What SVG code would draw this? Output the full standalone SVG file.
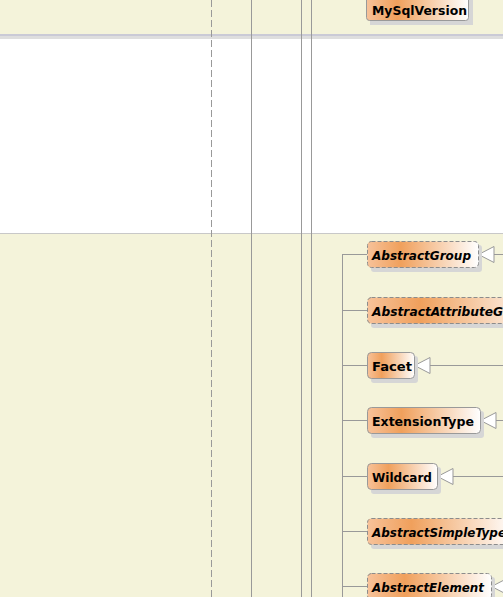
<svg xmlns="http://www.w3.org/2000/svg" width="503" height="597" viewBox="0 0 503 597">
<defs>
<linearGradient id="g" x1="0" y1="0" x2="1" y2="0">
<stop offset="0" stop-color="#f7c29a"/>
<stop offset="0.3" stop-color="#f0a05c"/>
<stop offset="1" stop-color="#ffffff"/>
</linearGradient>
<style>
.sh{fill:#d6d6d6;}
.box{fill:url(#g);stroke:#999999;stroke-width:1;}
.abs{stroke-dasharray:4,2;stroke:#8c8c8c;}
.t{font-family:"DejaVu Sans",Verdana,sans-serif;font-weight:bold;font-size:13px;fill:#000;}
.i{font-style:italic;}
.ln{stroke:#999999;stroke-width:1;fill:none;}
.tri{fill:#ffffff;stroke:#999999;stroke-width:1;}
</style>
</defs>
<rect x="0" y="0" width="503" height="597" fill="#ffffff"/>
<rect x="0" y="0" width="503" height="34" fill="#f4f3da"/>
<rect x="0" y="34" width="503" height="2" fill="#cacad6"/>
<rect x="0" y="36" width="503" height="3" fill="#dedede"/>
<rect x="0" y="233" width="503" height="364" fill="#f4f3da"/>
<line x1="0" y1="233.5" x2="503" y2="233.5" stroke="#c8c8c8"/>
<g id="lifelines">
<line x1="211.5" y1="0" x2="211.5" y2="597" stroke="#999" stroke-dasharray="7,3"/>
<line x1="251.5" y1="0" x2="251.5" y2="597" stroke="#999"/>
<line x1="301.5" y1="0" x2="301.5" y2="597" stroke="#999"/>
<line x1="311.5" y1="0" x2="311.5" y2="597" stroke="#999"/>
</g>
<g id="connectors">
<line class="ln" x1="342.5" y1="254.5" x2="342.5" y2="597"/>
<line class="ln" x1="342" y1="254.5" x2="367" y2="254.5"/>
<line class="ln" x1="342" y1="310.5" x2="367" y2="310.5"/>
<line class="ln" x1="342" y1="365.5" x2="367" y2="365.5"/>
<line class="ln" x1="342" y1="420.5" x2="367" y2="420.5"/>
<line class="ln" x1="342" y1="476.5" x2="367" y2="476.5"/>
<line class="ln" x1="342" y1="531.5" x2="367" y2="531.5"/>
<line class="ln" x1="342" y1="586.5" x2="367" y2="586.5"/>
<line class="ln" x1="494" y1="254.5" x2="503" y2="254.5"/>
<polygon class="tri" points="478.5,254.5 494,246.5 494,262.5"/>
<line class="ln" x1="430" y1="365.5" x2="503" y2="365.5"/>
<polygon class="tri" points="414.5,365.5 430,357.5 430,373.5"/>
<line class="ln" x1="496" y1="420.5" x2="503" y2="420.5"/>
<polygon class="tri" points="480.5,420.5 496,412.5 496,428.5"/>
<line class="ln" x1="453" y1="476.5" x2="503" y2="476.5"/>
<polygon class="tri" points="437.5,476.5 453,468.5 453,484.5"/>
<polygon class="tri" points="491.5,586.5 507,578.5 507,594.5"/>
</g>
<g id="MySqlVersion">
<rect class="sh" x="370" y="-4" width="103" height="29"/>
<rect class="box" x="366.5" y="-8.5" width="102" height="29" rx="3"/>
<text class="t" x="372" y="15" textLength="95" lengthAdjust="spacingAndGlyphs">MySqlVersion</text>
</g>
<g id="AbstractGroup">
<rect class="sh" x="371" y="245" width="111" height="27" rx="3"/>
<rect class="box abs" x="367.5" y="241.5" width="111" height="26" rx="4"/>
<text class="t i" x="372" y="259.5" textLength="99" lengthAdjust="spacingAndGlyphs">AbstractGroup</text>
</g>
<g id="AbstractAttributeGroup">
<rect class="sh" x="371" y="301" width="175" height="27" rx="3"/>
<rect class="box abs" x="367.5" y="297.5" width="175" height="26" rx="4"/>
<text class="t i" x="372" y="315.5" textLength="163" lengthAdjust="spacingAndGlyphs">AbstractAttributeGroup</text>
</g>
<g id="Facet">
<rect class="sh" x="371" y="356" width="47" height="27" rx="3"/>
<rect class="box" x="367.5" y="352.5" width="47" height="26" rx="4"/>
<text class="t" x="372" y="370.5" textLength="40" lengthAdjust="spacingAndGlyphs">Facet</text>
</g>
<g id="ExtensionType">
<rect class="sh" x="371" y="411" width="113" height="27" rx="3"/>
<rect class="box" x="367.5" y="407.5" width="113" height="26" rx="4"/>
<text class="t" x="372" y="425.5" textLength="102" lengthAdjust="spacingAndGlyphs">ExtensionType</text>
</g>
<g id="Wildcard">
<rect class="sh" x="371" y="467" width="70" height="27" rx="3"/>
<rect class="box" x="367.5" y="463.5" width="70" height="26" rx="4"/>
<text class="t" x="372" y="481.5" textLength="60" lengthAdjust="spacingAndGlyphs">Wildcard</text>
</g>
<g id="AbstractSimpleType">
<rect class="sh" x="371" y="522" width="146" height="27" rx="3"/>
<rect class="box abs" x="367.5" y="518.5" width="146" height="26" rx="4"/>
<text class="t i" x="372" y="536.5" textLength="134" lengthAdjust="spacingAndGlyphs">AbstractSimpleType</text>
</g>
<g id="AbstractElement">
<rect class="sh" x="371" y="577" width="124" height="27" rx="3"/>
<rect class="box abs" x="367.5" y="573.5" width="124" height="26" rx="4"/>
<text class="t i" x="372" y="591.5" textLength="112" lengthAdjust="spacingAndGlyphs">AbstractElement</text>
</g>
</svg>
